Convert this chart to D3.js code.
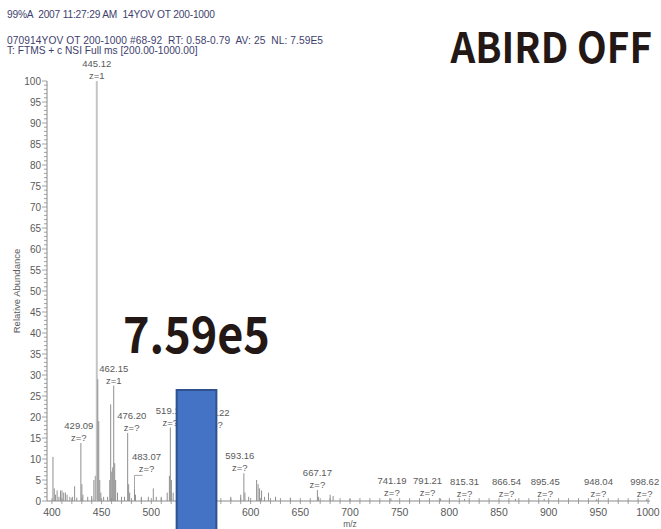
<!DOCTYPE html>
<html>
<head>
<meta charset="utf-8">
<script src="https://cdn.jsdelivr.net/npm/d3@7"></script>
<style>
body { margin: 0; background: #fff; }
svg { display: block; }
</style>
</head>
<body>
<svg id="chart" width="661" height="529"></svg>
<script>
var width = 661, height = 529;
var margin = {top: 81, left: 47, right: 8, bottom: 28};

// header lines of the scan
var headerLines = [
    "99%A  2007 11:27:29 AM  14YOV OT 200-1000",
    "070914YOV OT 200-1000 #68-92  RT: 0.58-0.79  AV: 25  NL: 7.59E5",
    "T: FTMS + c NSI Full ms [200.00-1000.00]"
];
var headerWidths = [208, 316, null];

// spectrum peaks (m/z, relative abundance)
var peakMz = [401.0, 402.3, 403.5, 405.2, 407.0, 408.6, 410.1, 411.8, 413.5, 415.2, 418.0, 420.5, 422.8, 425.0,
    429.09, 430.1, 431.1, 436.0, 440.0, 442.2, 443.6, 445.12, 446.12, 447.1, 448.1, 449.2, 452.0, 456.0,
    458.2, 459.1, 460.2, 461.15, 462.15, 463.15, 464.1, 466.0, 470.0, 473.0, 476.20, 477.2, 478.2,
    483.07, 484.1, 490.0, 497.0, 502.0, 505.0, 510.0, 516.0, 518.2, 519.17, 520.2, 522.0, 539.20,
    564.22, 580.0, 590.0, 593.16, 594.2, 598.0, 606.0, 607.5, 609.0, 611.0, 614.0, 618.0, 625.0, 640.0,
    667.17, 668.2, 680.0, 683.0, 700.0, 741.19, 791.21, 815.31, 866.54, 895.45, 948.04, 998.62];
var peakInt = [10.5, 3, 1.5, 2.5, 1, 2.5, 2.5, 2, 2, 1.5, 1, 1, 3.5, 0.8,
    13.8, 4, 1.5, 1, 1.2, 5, 6, 100, 29, 19, 5, 2, 1, 1,
    5, 23, 7, 8, 27.5, 9, 5, 2, 1, 1, 16.2, 4, 2,
    3, 1.5, 1, 1, 3, 1, 1, 2, 6, 17.5, 5, 2, 11,
    17, 1, 1.5, 6.6, 2, 1, 5, 4, 3, 2.5, 1, 2, 1, 0.8,
    2.6, 1, 1.5, 1.2, 0.5, 0.6, 0.6, 0.5, 0.5, 0.5, 0.4, 0.4];

// annotated peaks
var labelMz = [445.12, 462.15, 429.09, 476.20, 483.07, 519.17, 539.20, 564.22, 593.16, 667.17,
    741.19, 791.21, 815.31, 866.54, 895.45, 948.04, 998.62];
var labelZ = ["z=1", "z=1", "z=?", "z=?", "z=?", "z=?", "z=?", "z=?", "z=?", "z=?",
    "z=?", "z=?", "z=?", "z=?", "z=?", "z=?", "z=?"];
var labelDx = [0, 0, -2, 4, 12, 0, 0, 0, -4, 0, 1, -13, 0, -9, 1, 2, -2];

var xTicks = d3.range(400, 1001, 50);
var yTicks = d3.range(0, 101, 5);

var svg = d3.select("#chart");

var x = d3.scaleLinear()
    .domain([395, 1005])
    .range([margin.left, width - margin.right]);

var y = d3.scaleLinear()
    .domain([0, 100])
    .range([height - margin.bottom, margin.top]);

var tickFont = "Liberation Sans, Arial, sans-serif";
var axisColor = "#8a8a8a";
var textColor = "#5a5a5a";

// header text
svg.selectAll(".header")
    .data(headerLines)
    .enter().append("text")
    .attr("class", "header")
    .attr("x", 7)
    .attr("y", function(d, i) { return i == 0 ? 18 : 33 + i * 10.5; })
    .attr("textLength", function(d, i) { return headerWidths[i]; })
    .attr("lengthAdjust", "spacing")
    .style("font-family", tickFont)
    .style("font-size", "10.2px")
    .style("white-space", "pre")
    .style("fill", "#3e3e6e")
    .text(function(d) { return d; });

// y ticks (major every 5, minor every 1)
svg.append("g").selectAll("line")
    .data(d3.range(0, 101, 1))
    .enter().append("line")
    .attr("x1", margin.left).attr("x2", function(d) { return d % 5 == 0 ? margin.left - 5 : margin.left - 3; })
    .attr("y1", function(d) { return y(d); }).attr("y2", function(d) { return y(d); })
    .style("stroke", axisColor).style("stroke-width", 0.8);

// x ticks (every 10)
svg.append("g").selectAll("line")
    .data(d3.range(400, 1001, 10))
    .enter().append("line")
    .attr("x1", function(d) { return x(d); }).attr("x2", function(d) { return x(d); })
    .attr("y1", function(d) { return y(0) - 3; }).attr("y2", function(d) { return y(0) + 3; })
    .style("stroke", axisColor).style("stroke-width", 0.8);

// axis lines
svg.append("line")
    .attr("x1", margin.left).attr("x2", margin.left)
    .attr("y1", y(0)).attr("y2", y(100))
    .style("stroke", axisColor);
svg.append("line")
    .attr("x1", margin.left).attr("x2", x(1002))
    .attr("y1", y(0)).attr("y2", y(0))
    .style("stroke", axisColor);

svg.selectAll(".ytick")
    .data(yTicks)
    .enter().append("text")
    .attr("class", "ytick")
    .attr("x", margin.left - 6)
    .attr("y", function(d) { return y(d) + 3.5; })
    .style("text-anchor", "end")
    .style("font-family", tickFont).style("font-size", "10px").style("fill", textColor)
    .text(function(d) { return d; });

svg.selectAll(".xtick")
    .data(xTicks)
    .enter().append("text")
    .attr("class", "xtick")
    .attr("x", function(d) { return x(d); })
    .attr("y", y(0) + 15)
    .style("text-anchor", "middle")
    .style("font-family", tickFont).style("font-size", "10.5px").style("fill", textColor)
    .text(function(d) { return d; });

svg.append("text")
    .attr("transform", "translate(20," + y(50) + ") rotate(-90)")
    .style("text-anchor", "middle")
    .style("font-family", tickFont).style("font-size", "9.5px").style("fill", textColor)
    .text("Relative Abundance");

svg.append("text")
    .attr("x", x(700)).attr("y", 527)
    .style("text-anchor", "middle")
    .style("font-family", tickFont).style("font-size", "8.5px").style("fill", textColor)
    .text("m/z");

// peaks
var peaks = peakMz.map(function(d, i) { return {mz: d, ab: peakInt[i]}; });
svg.append("g").selectAll("line")
    .data(peaks)
    .enter().append("line")
    .attr("x1", function(d) { return x(d.mz); }).attr("x2", function(d) { return x(d.mz); })
    .attr("y1", y(0)).attr("y2", function(d) { return y(d.ab); })
    .style("stroke", function(d) { return d.ab == 100 ? "#c4c4c4" : "#909090"; })
    .style("stroke-width", function(d) { return d.ab == 100 ? 2 : 1; });

// peak labels
var labels = labelMz.map(function(d, i) {
    var ab = peakInt[peakMz.indexOf(d)];
    return {mz: d, ab: ab, z: labelZ[i], dx: labelDx[i], lead: labelDx[i] > 6};
});
var lab = svg.append("g").selectAll("g")
    .data(labels)
    .enter().append("g")
    .attr("transform", function(d) { return "translate(" + (x(d.mz) + d.dx) + "," + (y(d.ab) - (d.lead ? 16 : 2)) + ")"; });
lab.append("text")
    .attr("y", -12)
    .text(function(d) { return d.mz.toFixed(2); });
lab.append("text")
    .attr("y", 0)
    .text(function(d) { return d.z; });
lab.selectAll("text")
    .style("text-anchor", "middle")
    .style("font-family", tickFont).style("font-size", "9.5px").style("fill", textColor);

// leader line for the shifted label
labels.filter(function(d) { return d.lead; }).forEach(function(d) {
    svg.append("polyline")
        .attr("points", [[x(d.mz), y(d.ab)], [x(d.mz), y(d.ab) - 13], [x(d.mz) + d.dx - 4, y(d.ab) - 13]].join(" "))
        .style("fill", "none").style("stroke", "#909090").style("stroke-width", 0.8);
});

// overlay box
svg.append("rect")
    .attr("x", x(525.5)).attr("y", 390)
    .attr("width", x(565.5) - x(525.5)).attr("height", 150)
    .style("fill", "#4472c4").style("stroke", "#2f528f").style("stroke-width", 2);

var bigFont = "Noto Sans CJK JP, Noto Sans, sans-serif";
svg.append("text")
    .attr("transform", "translate(123,353) scale(0.9,1)")
    .style("font-family", bigFont).style("font-weight", "bold").style("font-size", "50px")
    .style("fill", "#231815")
    .text("7.59e5");

svg.append("text")
    .attr("transform", "translate(652,63) scale(0.92,1)")
    .style("text-anchor", "end")
    .style("font-family", bigFont).style("font-weight", "bold").style("font-size", "42px")
    .style("fill", "#231815")
    .text("ABIRD OFF");
</script>
</body>
</html>
